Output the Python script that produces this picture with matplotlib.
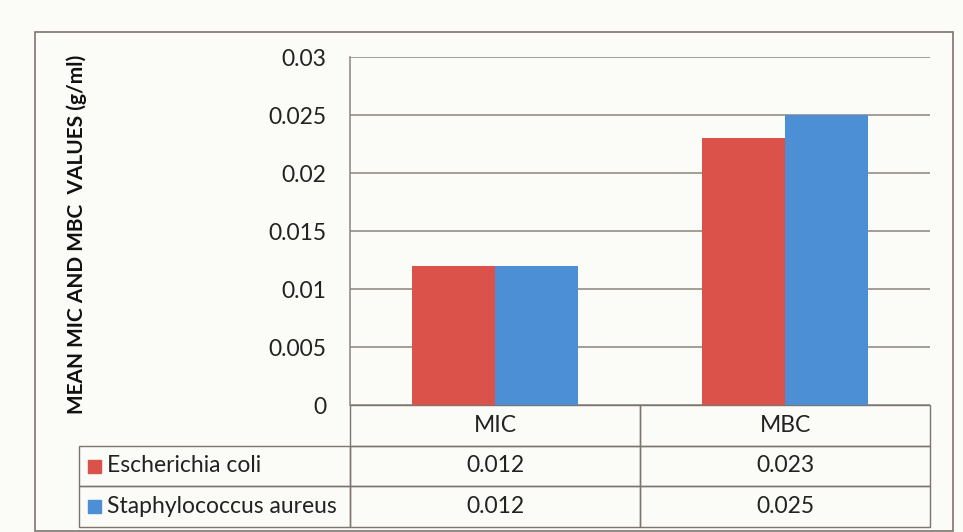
import matplotlib
matplotlib.use('Agg')
from matplotlib import pyplot as plt
from matplotlib.patches import Rectangle
import numpy as np

# data
categories = ['MIC', 'MBC']
organisms = ['Escherichia coli', 'Staphylococcus aureus']
ecoli = [0.012, 0.023]
saureus = [0.012, 0.025]
yticks = [0, 0.005, 0.01, 0.015, 0.02, 0.025, 0.03]
ytick_labels = ['0', '0.005', '0.01', '0.015', '0.02', '0.025', '0.03']

colors = ['#da5249', '#4d8fd5']
grid_col = '#8a837d'
line_col = '#7d746c'

plt.rcParams['font.family'] = ['Lato', 'DejaVu Sans']

W, H = 963, 532
fig = plt.figure(figsize=(W / 100, H / 100), dpi=100)
fig.patch.set_facecolor('#fbfbf8')

# plot area in pixel terms of the reference
left, right, top, bottom = 350, 930, 57, 405
ax = fig.add_axes([left / W, 1 - bottom / H, (right - left) / W, (bottom - top) / H])
ax.set_facecolor('none')

x = np.arange(len(categories))
w = 0.285
ax.bar(x - w / 2, ecoli, w, color=colors[0], zorder=3)
ax.bar(x + w / 2, saureus, w, color=colors[1], zorder=3)

ax.set_xlim(-0.5, len(categories) - 0.5)
ax.set_ylim(0, 0.03)
ax.set_yticks(yticks, ytick_labels)
ax.set_xticks([])
ax.tick_params(axis='y', length=0, pad=17, labelsize=16.5, labelcolor='#222222')
ax.grid(axis='y', color=grid_col, linewidth=1.1, zorder=0)
for s in ['top', 'right', 'bottom']:
    ax.spines[s].set_visible(False)
ax.spines['left'].set_color(grid_col)
ax.spines['left'].set_linewidth(1.1)

ax.set_ylabel('MEAN MIC AND MBC  VALUES (g/ml)', fontsize=15, fontweight='bold', color='#111111')
ax.yaxis.set_label_coords((87 - left) / (right - left), 0.49)

# data table under the plot
pw = right - left
ph = bottom - top
tab_left, tab_bottom = 79, 527
cell_text = [[organisms[0]] + [f'{v:.3f}' for v in ecoli],
             [organisms[1]] + [f'{v:.3f}' for v in saureus]]
tbl = ax.table(cellText=cell_text, colLabels=[''] + categories,
               colWidths=[(left - tab_left) / pw, 290 / pw, 290 / pw],
               cellLoc='center',
               bbox=[(tab_left - left) / pw, (bottom - tab_bottom) / ph,
                     (right - tab_left) / pw, (tab_bottom - bottom) / ph])
tbl.auto_set_font_size(False)
tbl.set_fontsize(16.5)
for (r, c), cell in tbl.get_celld().items():
    cell.set_edgecolor(line_col)
    cell.set_linewidth(1.0)
    cell.set_facecolor('none')
    cell.get_text().set_color('#222222')
    if c == 0:
        cell.get_text().set_ha('left')
        cell.PAD = 0.105
        cell._loc = 'left'
tbl[0, 0].set_edgecolor('none')

# legend keys in the table
row_h = (tab_bottom - bottom) / 3
for i, col in enumerate(colors):
    yc = bottom + row_h * (1.5 + i)
    ax.add_patch(Rectangle(((88 - left) / pw, (bottom - yc - 6.5) / ph), 13 / pw, 13 / ph,
                           transform=ax.transAxes, color=col, clip_on=False))

# outer chart border
fig.add_artist(Rectangle((35 / W, 1 - 531 / H), (953 - 35) / W, (531 - 32) / H,
                         transform=fig.transFigure, fill=False, edgecolor=line_col, linewidth=1.2))

plt.savefig('out.png', dpi=100, facecolor=fig.get_facecolor())
